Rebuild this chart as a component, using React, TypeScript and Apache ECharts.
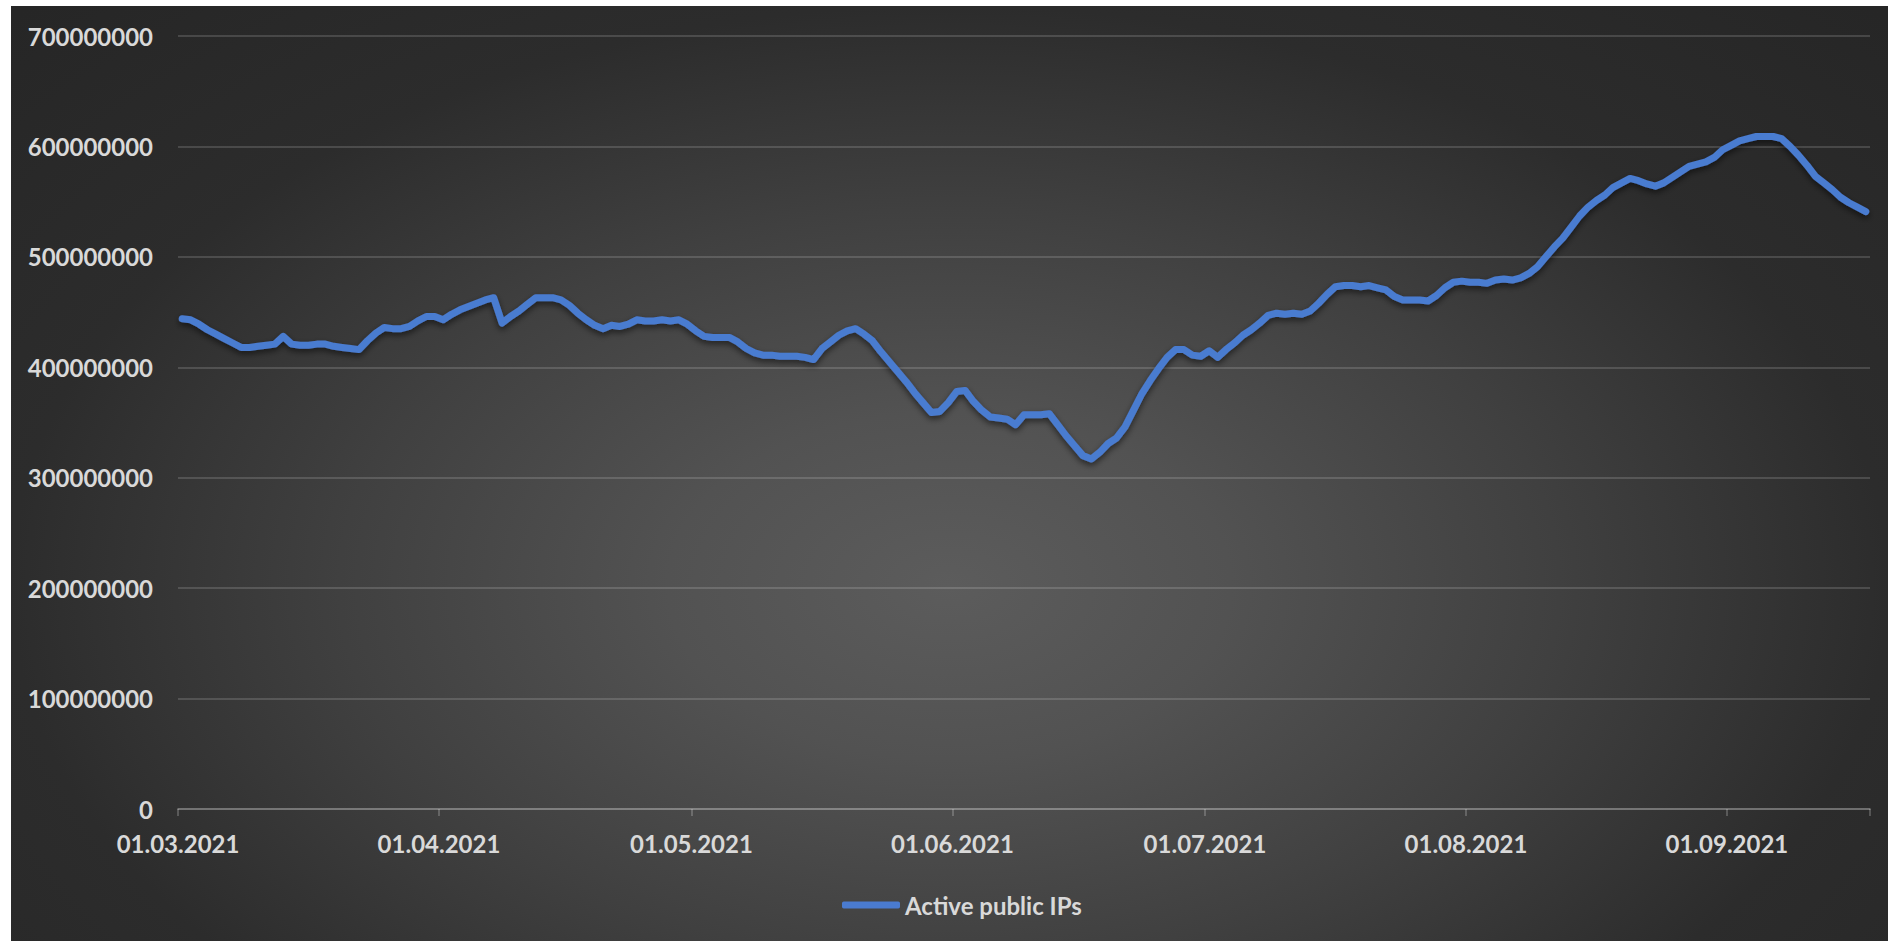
import React, { useEffect, useRef } from "react";
import * as echarts from "echarts";

// Daily values (millions of active public IPs), 01.03.2021 – 17.09.2021
const march = [444, 443, 439, 434, 430, 426, 422, 418, 418, 419, 420, 421, 428, 421, 420, 420, 421, 421, 419, 418, 417, 416, 424, 431, 436, 435, 435, 437, 442, 446, 446];
const april = [443, 448, 452, 455, 458, 461, 463, 440, 446, 451, 457, 463, 463, 463, 461, 456, 449, 443, 438, 435, 438, 437, 439, 443, 442, 442, 443, 442, 443, 439];
const may = [433, 428, 427, 427, 427, 423, 417, 413, 411, 411, 410, 410, 410, 409, 407, 417, 423, 429, 433, 435, 430, 424, 414, 405, 396, 387, 377, 368, 359, 360, 368];
const june = [378, 379, 369, 361, 355, 354, 353, 348, 357, 357, 357, 358, 348, 338, 329, 320, 317, 323, 331, 336, 346, 361, 376, 388, 399, 409, 416, 416, 411, 410];
const july = [415, 409, 416, 422, 429, 434, 440, 447, 449, 448, 449, 448, 451, 458, 466, 473, 474, 474, 473, 474, 472, 470, 464, 461, 461, 461, 460, 465, 472, 477, 478];
const august = [477, 477, 476, 479, 480, 479, 481, 485, 491, 500, 509, 517, 527, 537, 545, 551, 556, 563, 567, 571, 569, 566, 564, 567, 572, 577, 582, 584, 586, 590, 597];
const september = [601, 605, 607, 609, 609, 609, 607, 600, 592, 583, 573, 567, 561, 554, 549, 545, 541];

const seriesName = "Active public IPs";
const startYear = 2021;
const startMonthIndex = 2; // March
const yMin = 0;
const yMax = 700000000;
const yStep = 100000000;

const valuesMillions = [...march, ...april, ...may, ...june, ...july, ...august, ...september];

const pad2 = (n: number) => (n < 10 ? "0" + n : String(n));
const dayMs = 86400000;
const startUtc = Date.UTC(startYear, startMonthIndex, 1);
const categories: string[] = [];
const monthStarts = new Set<number>();
valuesMillions.forEach((_, i) => {
  const d = new Date(startUtc + i * dayMs);
  const dd = d.getUTCDate();
  if (dd === 1) monthStarts.add(i);
  categories.push(pad2(dd) + "." + pad2(d.getUTCMonth() + 1) + "." + d.getUTCFullYear());
});

const textColor = "#d9d9d9";
const fontFamily = "Lato, 'Open Sans', sans-serif";

export default function App() {
  const ref = useRef<HTMLDivElement>(null);
  useEffect(() => {
    if (!ref.current) return;
    const chart = echarts.init(ref.current, null, { renderer: "svg" });
    chart.setOption({
      animation: false,
      backgroundColor: "transparent",
      grid: { left: 167, right: 18, top: 30, bottom: 132, containLabel: false },
      legend: {
        data: [seriesName],
        left: 826,
        top: 882,
        icon: "roundRect",
        itemWidth: 58,
        itemHeight: 7,
        textStyle: { color: textColor, fontSize: 24, fontFamily, fontWeight: "bold" },
      },
      xAxis: {
        type: "category",
        data: categories,
        boundaryGap: true,
        axisLine: { lineStyle: { color: "rgba(255,255,255,0.2)", width: 2 } },
        axisTick: {
          show: true,
          interval: (i: number) => monthStarts.has(i),
          length: 7,
          lineStyle: { color: "rgba(255,255,255,0.2)", width: 2 },
        },
        axisLabel: {
          interval: (i: number) => monthStarts.has(i),
          color: textColor,
          fontSize: 24,
          fontFamily,
          fontWeight: "bold",
          margin: 22,
          padding: [0, 8.4, 0, 0],
        },
        splitLine: { show: false },
      },
      yAxis: {
        type: "value",
        min: yMin,
        max: yMax,
        interval: yStep,
        axisLine: { show: false },
        axisTick: { show: false },
        splitLine: { lineStyle: { color: "rgba(255,255,255,0.15)", width: 2 } },
        axisLabel: {
          color: textColor,
          fontSize: 24,
          fontFamily,
          fontWeight: "bold",
          margin: 25,
          formatter: (v: number) => String(v),
        },
      },
      series: [
        {
          name: seriesName,
          type: "line",
          data: valuesMillions.map((v) => v * 1000000),
          symbol: "none",
          showSymbol: false,
          smooth: false,
          itemStyle: { color: "#4a7bd0" },
          lineStyle: {
            color: "#4a7bd0",
            width: 7,
            cap: "round",
            join: "round",
            shadowColor: "rgba(0,0,0,0.55)",
            shadowBlur: 6,
            shadowOffsetY: 3,
          },
        },
      ],
    });
    return () => chart.dispose();
  }, []);
  return (
    <div
      ref={ref}
      style={{
        position: "absolute",
        left: 11,
        top: 6,
        width: 1877,
        height: 935,
        background:
          "radial-gradient(ellipse farthest-side at 50% 62%, #5c5c5c 0%, #525252 30%, #404040 65%, #2c2c2c 100%, #262626 140%)",
      }}
    />
  );
}
